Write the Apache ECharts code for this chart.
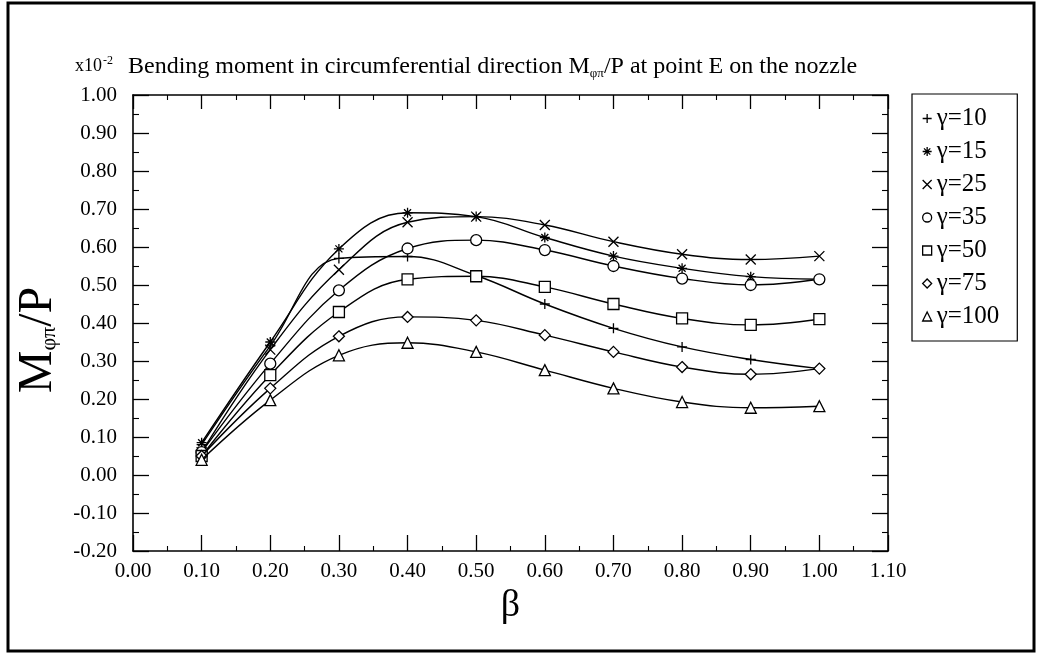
<!doctype html>
<html>
<head>
    <meta charset="UTF-8">
    <title>Bending moment</title>
    <script src="https://cdn.jsdelivr.net/npm/echarts@6/dist/echarts.min.js"></script>
    <style>
        html, body { margin: 0; padding: 0; background: #fff; }
    </style>
</head>
<body>
<div id="main" style="width: 1039px;height:655px;"></div>
<script>
    // beta values (x axis)
    var beta = [0.10, 0.20, 0.30, 0.40, 0.50, 0.60, 0.70, 0.80, 0.90, 1.00];
    // M/P values (x10^-2), one list per gamma
    var g10  = [0.080, 0.340, 0.570, 0.575, 0.525, 0.450, 0.386, 0.337, 0.304, 0.280];
    var g15  = [0.085, 0.350, 0.595, 0.690, 0.680, 0.625, 0.576, 0.544, 0.522, 0.515];
    var g25  = [0.060, 0.330, 0.540, 0.665, 0.680, 0.658, 0.614, 0.581, 0.567, 0.576];
    var g35  = [0.060, 0.293, 0.486, 0.596, 0.618, 0.592, 0.550, 0.517, 0.500, 0.515];
    var g50  = [0.050, 0.263, 0.429, 0.515, 0.523, 0.495, 0.450, 0.412, 0.395, 0.410];
    var g75  = [0.050, 0.228, 0.365, 0.416, 0.407, 0.368, 0.324, 0.284, 0.265, 0.280];
    var g100 = [0.040, 0.197, 0.315, 0.348, 0.324, 0.276, 0.228, 0.192, 0.177, 0.181];
    var names = ['γ=10', 'γ=15', 'γ=25', 'γ=35', 'γ=50', 'γ=75', 'γ=100'];
    var values = [g10, g15, g25, g35, g50, g75, g100];

    var symbols = [
        'path://M5,0L5,10M0,5L10,5',
        'path://M5,0L5,10M0,5L10,5M1.5,1.5L8.5,8.5M8.5,1.5L1.5,8.5',
        'path://M0,0L10,10M10,0L0,10',
        'circle',
        'rect',
        'diamond',
        'triangle'
    ];

    var font = 'Liberation Serif';
    var series = [];
    values.map((v, i) => {
        series.push({
            name: names[i],
            type: 'line',
            smooth: 0.4,
            symbol: symbols[i],
            symbolSize: i < 3 ? 10 : 11,
            lineStyle: { color: '#000', width: 1.4 },
            itemStyle: { color: '#fff', borderColor: '#000', borderWidth: 1.3 },
            z: 3 + i,
            data: beta.map((b, j) => [b, v[j]])
        });
    });

    var myChart = echarts.init(document.getElementById("main"));
    var fmt = v => v.toFixed(2);
    var tick = (len) => ({ inside: true, length: len, lineStyle: { color: '#000', width: 1.3 } });
    var minor = (len) => ({ show: true, splitNumber: 2, length: len, lineStyle: { color: '#000', width: 1.1 } });
    var line = { onZero: false, lineStyle: { color: '#000', width: 1.6 } };
    var option = {
        animation: false,
        backgroundColor: '#fff',
        textStyle: { fontFamily: font, color: '#000' },
        title: [
            {
                text: 'x10{sup|-2}',
                left: 70, top: 50,
                textStyle: {
                    fontFamily: font, fontSize: 18, fontWeight: 'normal', color: '#000',
                    rich: { sup: { fontFamily: font, fontSize: 12, padding: [0, 0, 10, 1] } }
                }
            },
            {
                text: 'Bending moment in circumferential direction M{sub|φπ}/P at point E on the nozzle',
                left: 123, top: 48,
                textStyle: {
                    fontFamily: font, fontSize: 24, fontWeight: 'normal', color: '#000',
                    rich: { sub: { fontFamily: font, fontSize: 13, padding: [14, 0, 0, 0] } }
                }
            }
        ],
        legend: {
            orient: 'vertical',
            left: 912, top: 94,
            padding: [12, 18, 12, 10],
            itemWidth: 9, itemHeight: 9,
            itemGap: 8,
            borderColor: '#000', borderWidth: 1.2,
            itemStyle: { color: '#fff', borderColor: '#000', borderWidth: 1.3 },
            textStyle: { fontFamily: font, fontSize: 25, color: '#000', lineHeight: 24 },
            data: names.map((n, i) => ({ name: n, icon: symbols[i] }))
        },
        graphic: [{
            type: 'rect',
            shape: { x: 8, y: 3, width: 1026, height: 648 },
            style: { fill: null, stroke: '#000', lineWidth: 3 },
            silent: true
        }],
        grid: { left: 133, right: 151, top: 95, bottom: 104, outerBoundsMode: 'none' },
        xAxis: [
            {
                type: 'value', min: 0, max: 1.1, interval: 0.1,
                name: 'β', nameLocation: 'middle', nameGap: 36,
                nameTextStyle: { fontFamily: font, fontSize: 38, color: '#000' },
                axisLine: line,
                axisTick: tick(16),
                minorTick: minor(5),
                axisLabel: { formatter: fmt, fontFamily: font, fontSize: 21, color: '#000', margin: 10 },
                splitLine: { show: false }
            },
            {
                type: 'value', min: 0, max: 1.1, interval: 0.1, position: 'top',
                axisLine: line,
                axisTick: tick(14),
                minorTick: minor(5),
                axisLabel: { show: false },
                splitLine: { show: false }
            }
        ],
        yAxis: [
            {
                type: 'value', min: -0.2, max: 1.0, interval: 0.1,
                name: 'M{sub|φπ}/P', nameLocation: 'middle', nameGap: 62, nameRotate: 90,
                nameTextStyle: {
                    fontFamily: font, fontSize: 48, color: '#000', padding: [0, 34, 0, 0],
                    rich: { sub: { fontFamily: font, fontSize: 22, padding: [22, 0, 0, 0] } }
                },
                axisLine: line,
                axisTick: tick(16),
                minorTick: minor(6),
                axisLabel: { formatter: fmt, fontFamily: font, fontSize: 21, color: '#000', margin: 16 },
                splitLine: { show: false }
            },
            {
                type: 'value', min: -0.2, max: 1.0, interval: 0.1, position: 'right',
                axisLine: line,
                axisTick: tick(16),
                minorTick: minor(6),
                axisLabel: { show: false },
                splitLine: { show: false }
            }
        ],
        series: series
    };
    myChart.setOption(option);
</script>
</body>
</html>
